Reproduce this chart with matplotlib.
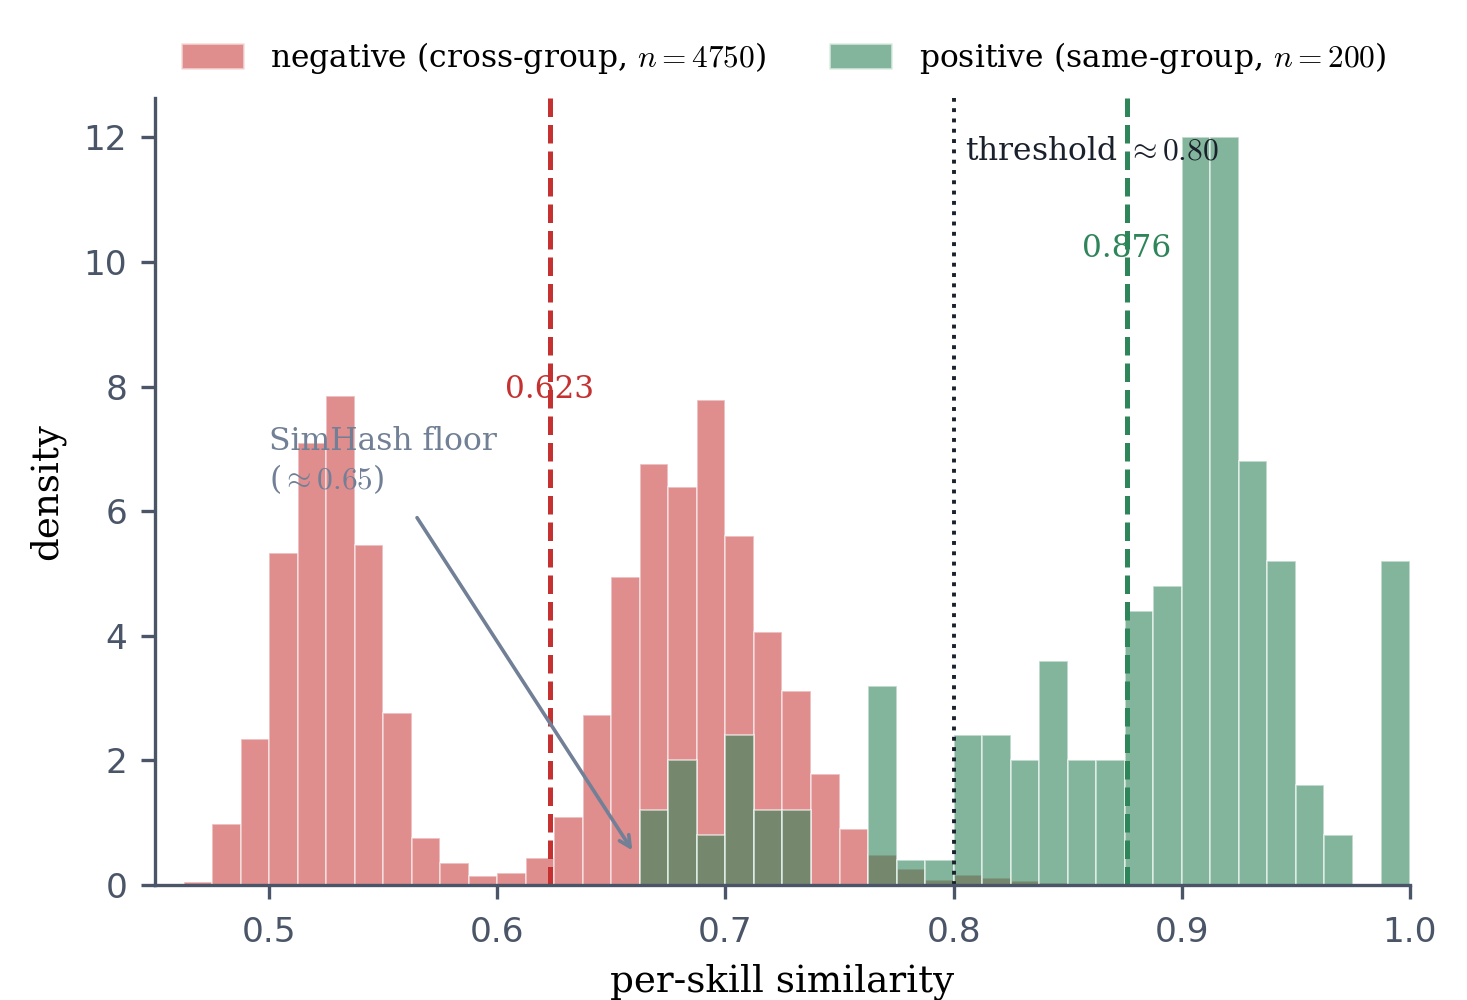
import numpy as np
import matplotlib
matplotlib.use("Agg")
import matplotlib.pyplot as plt
from matplotlib.patches import Patch

plt.rcParams["font.family"] = ["DejaVu Serif"]
plt.rcParams["mathtext.fontset"] = "cm"

# histogram bins (width 0.0125)
bin_edges = np.round(np.arange(0.4625, 1.0001, 0.0125), 4)

# density per bin
neg_density = [0.05, 0.98, 2.34, 5.33, 7.09, 7.85, 5.45, 2.76, 0.75, 0.35,
               0.15, 0.19, 0.43, 1.09, 2.73, 4.94, 6.75, 6.39, 7.78, 5.60,
               4.06, 3.11, 1.78, 0.90, 0.48, 0.26, 0.08, 0.16, 0.11, 0.06,
               0.03, 0, 0, 0, 0, 0, 0, 0, 0, 0, 0, 0, 0]
pos_counts = [0, 0, 0, 0, 0, 0, 0, 0, 0, 0,
              0, 0, 0, 0, 0, 0, 3, 5, 2, 6,
              3, 3, 0, 0, 8, 1, 1, 6, 6, 5,
              9, 5, 5, 11, 12, 30, 30, 17, 13, 4,
              2, 0, 13]
n_neg = 4750
n_pos = 200

neg_median = 0.623
pos_median = 0.876
threshold = 0.80
simhash_floor = 0.65

red = "#c53030"
green = "#2f855a"
slate = "#4a5568"
gray = "#718096"
dark = "#1a202c"

centers = (bin_edges[:-1] + bin_edges[1:]) / 2
width = bin_edges[1] - bin_edges[0]
pos_density = np.array(pos_counts) / (n_pos * width)

fig = plt.figure(figsize=(7.335, 5), dpi=200)
ax = fig.add_axes([0.1057, 0.115, 0.8554, 0.787])

ax.hist(centers, bins=bin_edges, weights=neg_density, color=red, alpha=0.55,
        edgecolor="white", linewidth=0.6)
ax.hist(centers, bins=bin_edges, weights=pos_density, color=green, alpha=0.6,
        edgecolor="white", linewidth=0.6)

ax.axvline(neg_median, color=red, ls="--", lw=1.8)
ax.axvline(pos_median, color=green, ls="--", lw=1.8)
ax.axvline(threshold, color=dark, ls=":", lw=1.4)

ax.text(neg_median, 7.95, f"{neg_median:.3f}", color=red, ha="center", va="center", fontsize=11.2)
ax.text(pos_median, 10.22, f"{pos_median:.3f}", color=green, ha="center", va="center", fontsize=11.2)
ax.text(threshold + 0.005, 11.78, r"threshold $\approx 0.80$", color=dark,
        ha="left", va="center", fontsize=11.3)

ax.text(0.5, 7.37, "SimHash floor\n($\\approx %.2f$)" % simhash_floor, color=gray,
        ha="left", va="top", fontsize=11.3, linespacing=1.2)
ax.annotate("", xy=(0.6605, 0.48), xytext=(0.5635, 5.97),
            arrowprops=dict(arrowstyle="->", color=gray, lw=1.3))

ax.set_xlim(0.45, 1.0)
ax.set_ylim(0, 12.63)
ax.set_xticks([0.5, 0.6, 0.7, 0.8, 0.9, 1.0])
ax.set_yticks([0, 2, 4, 6, 8, 10, 12])

for s in ["top", "right"]:
    ax.spines[s].set_visible(False)
for s in ["left", "bottom"]:
    ax.spines[s].set_color(slate)
    ax.spines[s].set_linewidth(1.2)
ax.tick_params(colors=slate, length=5, width=1.2, labelsize=12.4)
ax.tick_params(axis="x", pad=6)
ax.tick_params(axis="y", pad=5)
for lab in ax.get_xticklabels() + ax.get_yticklabels():
    lab.set_family("DejaVu Sans")

ax.set_xlabel("per-skill similarity", fontsize=13.4, labelpad=5.5)
ax.set_ylabel("density", fontsize=13.4, labelpad=6.5)

handles = [Patch(facecolor=red, alpha=0.55, edgecolor="white"),
           Patch(facecolor=green, alpha=0.6, edgecolor="white")]
labels = [r"negative (cross-group, $n=%d$)" % n_neg,
          r"positive (same-group, $n=%d$)" % n_pos]
fig.legend(handles, labels, loc="center", bbox_to_anchor=(0.534, 0.942), ncol=2,
           frameon=False, fontsize=11.3, handlelength=2.0, handleheight=0.9,
           handletextpad=0.85, columnspacing=2.0)

fig.savefig("out.png", dpi=200)
